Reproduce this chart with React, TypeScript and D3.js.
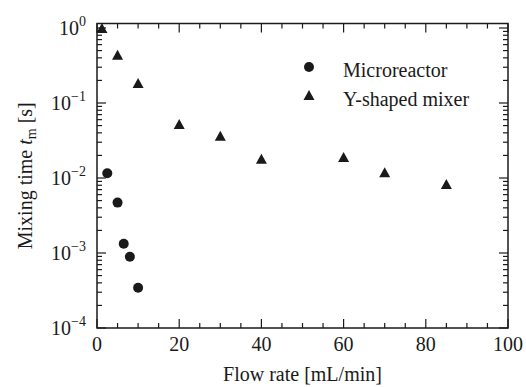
import React from "react";
import * as d3 from "d3";

const microX = [2.5, 5, 6.5, 8, 10];
const microY = [0.0116, 0.0047, 0.00133, 0.00089, 0.000345];
const mixerX = [1.2, 5, 10, 20, 30, 40, 60, 70, 85];
const mixerY = [1.0, 0.44, 0.185, 0.0525, 0.0366, 0.018, 0.019, 0.0119, 0.0083];
const xTicks = [0, 20, 40, 60, 80, 100];
const yExps = [0, -1, -2, -3, -4];
const seriesNames = ["Microreactor", "Y-shaped mixer"];

const W = 526, H = 387;
const L = 97, R = 508, T = 23.5, B = 328;
const FONT = "'Liberation Serif', 'Times New Roman', serif";
const INK = "#1a1a1a";

export default function App() {
  const x = d3.scaleLinear().domain([0, 100]).range([L, R]);
  const y = d3.scaleLog().domain([1e-4, 1.148]).range([B, T]);

  const xMinor = d3.range(0, 101, 5).filter((v) => v % 20 !== 0);
  const yMinor: number[] = [];
  for (let e = -4; e <= 0; e++) {
    for (let m = 2; m <= 9; m++) {
      const v = m * Math.pow(10, e);
      if (v <= 1.148) yMinor.push(v);
    }
  }
  const majLen = 9, minLen = 5;
  const tri = (cx: number, cy: number, w = 11, h = 10) =>
    `M${cx},${cy - h / 2}L${cx + w / 2},${cy + h / 2}L${cx - w / 2},${cy + h / 2}Z`;

  return (
    <svg width={W} height={H} style={{ position: "absolute", left: 0, top: 0, background: "#fff" }}
      fontFamily={FONT} fill={INK}>
      <rect x={0} y={0} width={W} height={H} fill="#fff" />
      <g stroke={INK} strokeWidth={1.2}>
        {xTicks.map((t) => (
          <g key={"xt" + t}>
            <line x1={x(t)} x2={x(t)} y1={B} y2={B - majLen} />
            <line x1={x(t)} x2={x(t)} y1={T} y2={T + majLen} />
          </g>
        ))}
        {xMinor.map((t) => (
          <g key={"xm" + t}>
            <line x1={x(t)} x2={x(t)} y1={B} y2={B - minLen} />
            <line x1={x(t)} x2={x(t)} y1={T} y2={T + minLen} />
          </g>
        ))}
        {yExps.map((e) => {
          const v = Math.pow(10, e);
          return (
            <g key={"yt" + e}>
              <line x1={L} x2={L + majLen} y1={y(v)} y2={y(v)} />
              <line x1={R} x2={R - majLen} y1={y(v)} y2={y(v)} />
            </g>
          );
        })}
        {yMinor.map((v, i) => (
          <g key={"ym" + i}>
            <line x1={L} x2={L + minLen} y1={y(v)} y2={y(v)} />
            <line x1={R} x2={R - minLen} y1={y(v)} y2={y(v)} />
          </g>
        ))}
        <rect x={L} y={T} width={R - L} height={B - T} fill="none" strokeWidth={1.5} />
      </g>

      {xTicks.map((t) => (
        <text key={"xl" + t} x={x(t)} y={351} fontSize={20} textAnchor="middle">{t}</text>
      ))}
      {yExps.map((e) => {
        const v = Math.pow(10, e);
        const sup = e === 0 ? "0" : "\u2212" + Math.abs(e);
        return (
          <text key={"yl" + e} x={86} y={y(v) + 7} fontSize={20} textAnchor="end">
            10<tspan dy={-9} fontSize={14}>{sup}</tspan>
          </text>
        );
      })}

      <text x={(L + R) / 2} y={381} fontSize={20} textAnchor="middle">Flow rate [mL/min]</text>
      <text transform={`translate(32,${(T + B) / 2}) rotate(-90)`} fontSize={20} textAnchor="middle">
        Mixing time <tspan fontStyle="italic">t</tspan>
        <tspan dy={4} fontSize={14}>m</tspan>
        <tspan dy={-4}> [s]</tspan>
      </text>

      {microX.map((v, i) => (
        <circle key={"c" + i} cx={x(v)} cy={y(microY[i])} r={5} fill={INK} />
      ))}
      {mixerX.map((v, i) => (
        <path key={"t" + i} d={tri(x(v), y(mixerY[i]))} fill={INK} />
      ))}

      <circle cx={309} cy={67} r={5} fill={INK} />
      <text x={343} y={77} fontSize={20}>{seriesNames[0]}</text>
      <path d={tri(309, 95)} fill={INK} />
      <text x={343} y={106} fontSize={20}>{seriesNames[1]}</text>
    </svg>
  );
}
